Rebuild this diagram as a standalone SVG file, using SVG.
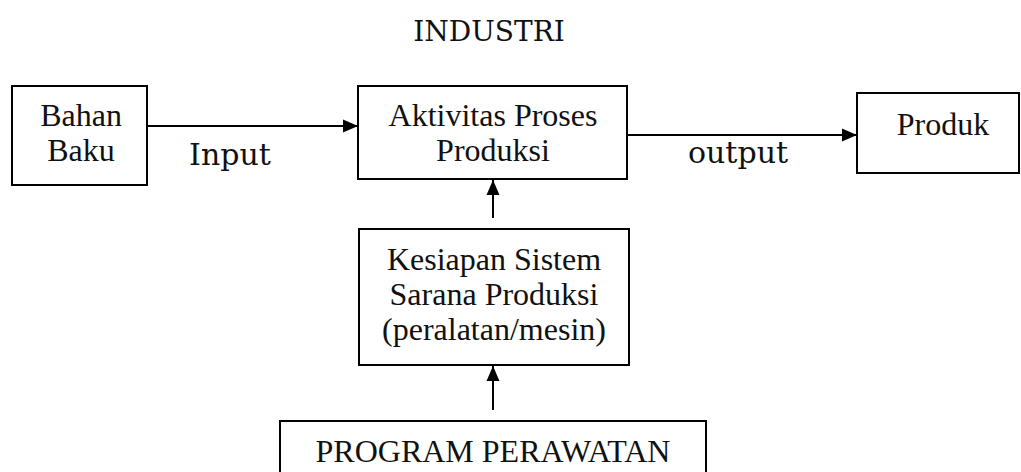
<svg xmlns="http://www.w3.org/2000/svg" width="1021" height="472" viewBox="0 0 1021 472">
  <style>
    .box { fill: #fff; stroke: #000; stroke-width: 2; }
    .lbl { font-family: "Liberation Serif", "Times New Roman", serif; font-size: 32px; fill: #111; text-anchor: middle; }
    .alt { font-family: "DejaVu Serif", serif; font-size: 30px; fill: #111; text-anchor: middle; }
    .conn { stroke: #000; stroke-width: 2; fill: none; }
  </style>
  <defs>
    <marker id="arrow" markerUnits="userSpaceOnUse" markerWidth="16" markerHeight="14" refX="15" refY="7" orient="auto">
      <path d="M0,0.5 L15,7 L0,13.5 Z" fill="#000"/>
    </marker>
  </defs>
  <rect width="1021" height="472" fill="#fff"/>

  <text class="alt" x="489" y="41" style="font-size:28px">INDUSTRI</text>

  <g id="bahan-baku">
    <rect class="box" x="12" y="86" width="135" height="99"/>
    <text class="lbl" x="81" y="126">Bahan</text>
    <text class="lbl" x="81" y="161">Baku</text>
  </g>

  <g id="aktivitas">
    <rect class="box" x="358" y="86" width="269" height="93"/>
    <text class="lbl" x="493" y="126">Aktivitas Proses</text>
    <text class="lbl" x="493" y="161">Produksi</text>
  </g>

  <g id="produk">
    <rect class="box" x="857" y="93" width="162" height="80"/>
    <text class="lbl" x="943" y="135">Produk</text>
  </g>

  <g id="kesiapan">
    <rect class="box" x="359" y="229" width="270" height="136"/>
    <text class="lbl" x="494" y="270">Kesiapan Sistem</text>
    <text class="lbl" x="494" y="305">Sarana Produksi</text>
    <text class="lbl" x="494" y="340">(peralatan/mesin)</text>
  </g>

  <g id="program-perawatan">
    <rect class="box" x="280" y="421" width="426" height="70"/>
    <text class="lbl" x="493" y="462">PROGRAM PERAWATAN</text>
  </g>

  <g id="connectors">
    <line class="conn" x1="147" y1="126" x2="358" y2="126" marker-end="url(#arrow)"/>
    <text class="alt" x="230" y="165">Input</text>
    <line class="conn" x1="627" y1="135" x2="857" y2="135" marker-end="url(#arrow)"/>
    <text class="alt" x="738" y="163">output</text>
    <line class="conn" x1="493" y1="218" x2="493" y2="180" marker-end="url(#arrow)"/>
    <line class="conn" x1="493" y1="410" x2="493" y2="366" marker-end="url(#arrow)"/>
  </g>
</svg>
